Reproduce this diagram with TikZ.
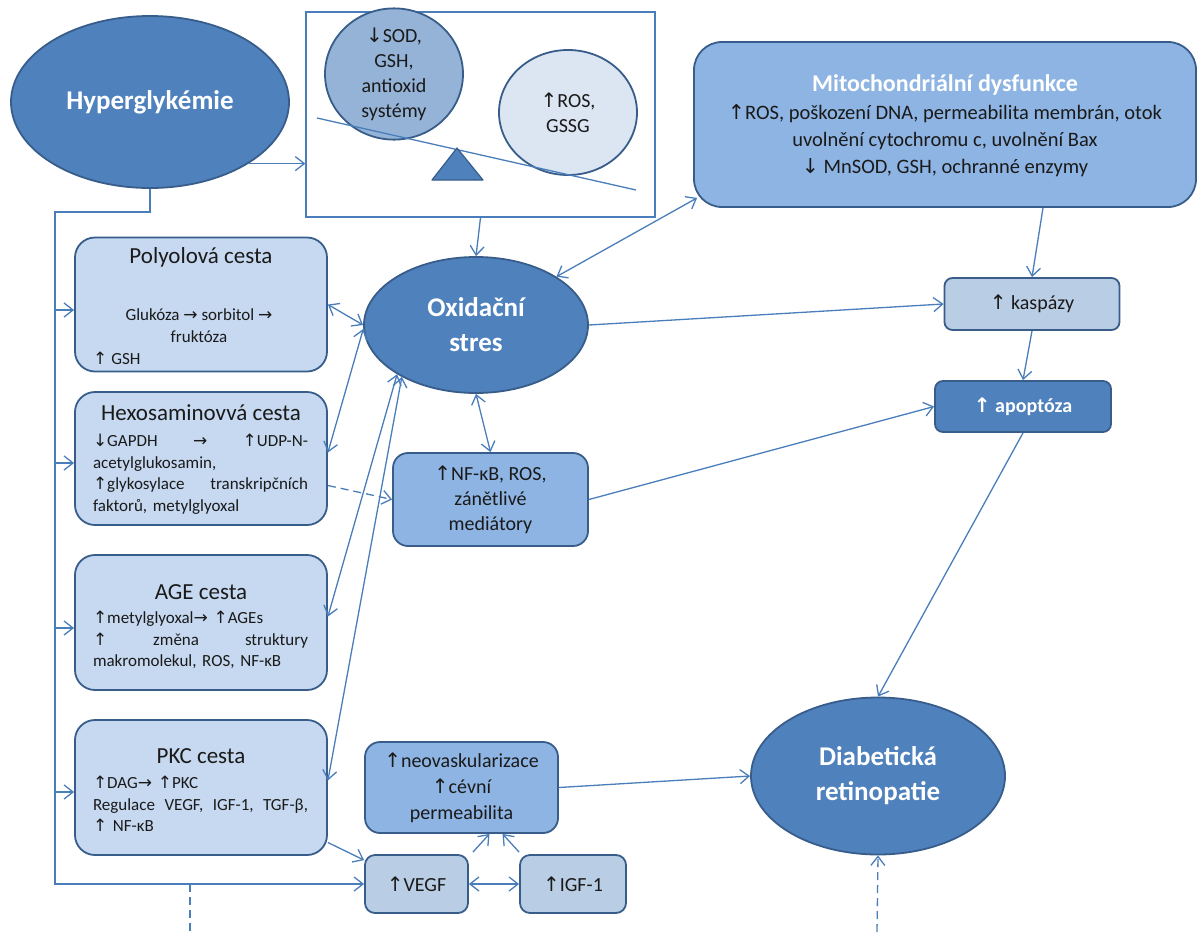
\documentclass[tikz,border=0pt]{standalone}
\usepackage{fontspec}
\setmainfont{Carlito}
\newfontfamily\arr{DejaVu Sans}
\usetikzlibrary{shapes.geometric,arrows.meta}
\newcommand\UA{{\arr ↑}}
\newcommand\DA{{\arr ↓}}
\newcommand\RA{{\arr →}}
\newcommand\jline[1]{\leavevmode\hbox to 215pt{#1}}
\definecolor{dk}{HTML}{4F81BD}
\definecolor{bd}{HTML}{385D8A}
\definecolor{lt}{HTML}{C6D9F1}
\definecolor{md}{HTML}{8EB4E3}
\definecolor{pl}{HTML}{B9CDE5}
\definecolor{cn}{HTML}{4A7EBB}
\definecolor{tx}{HTML}{1A1A1A}
\definecolor{vl}{HTML}{DCE6F2}
\definecolor{cl}{HTML}{95B3D7}
\tikzset{
  ell/.style={ellipse, draw=bd, line width=1.8pt, fill=dk, inner sep=0pt, text=white, align=center},
  rbox/.style={rectangle, draw=bd, line width=1.8pt, inner sep=0pt, align=center, text=tx},
  txt/.style={inner sep=0pt, text=tx},
  big/.style={font=\bfseries\fontsize{27}{35}\selectfont},
  ttl/.style={font=\fontsize{23}{27}\selectfont},
  bod/.style={font=\fontsize{17}{21.5}\selectfont, text width=215pt, align=left},
  med/.style={font=\fontsize{20}{26}\selectfont},
  tip/.tip={Straight Barb[length=9pt,width=14pt]},
  con/.style={draw=cn, line width=1.3pt, -tip},
  bicon/.style={draw=cn, line width=1.3pt, tip-tip},
  plain/.style={draw=cn, line width=1.3pt},
  dsh/.style={dash pattern=on 8pt off 5pt}
}
\begin{document}
\begin{tikzpicture}[x=1pt,y=-1pt]
\fill[white] (0,0) rectangle (1199,932);
\useasboundingbox (0,0) rectangle (1199,932);

% main ellipses
\node[ell, big, minimum width=278pt, minimum height=172pt] (hyper) at (150,102) {Hyperglykémie};
\node[ell, big, minimum width=224pt, minimum height=136pt] (oxid) at (476,325) {Oxidační\\stres};
\node[ell, big, minimum width=254pt, minimum height=157pt] (dr) at (878,776) {Diabetická\\retinopatie};

% balance box
\node[draw=cn, line width=1.3pt, minimum width=349pt, minimum height=205pt, inner sep=0pt] (scalebox) at (480.5,114.5) {};
\node[ellipse, draw=bd, line width=1.8pt, fill=cl, minimum width=138pt, minimum height=124pt, inner sep=0pt, align=center, text=tx, font=\fontsize{20}{25}\selectfont] (antiox) at (394,74) {\DA SOD,\\GSH,\\antioxid\\systémy};
\node[ellipse, draw=bd, line width=1.8pt, fill=vl, minimum width=138pt, minimum height=125pt, inner sep=0pt, align=center, text=tx, font=\fontsize{20}{25}\selectfont] (ros) at (568,112.5) {\UA ROS,\\GSSG};
\coordinate (beamL) at (317,118);
\coordinate (beamR) at (636,190);
\draw[plain] (beamL) -- (beamR);
\coordinate (triA) at (457,148);
\coordinate (triB) at (432,180);
\coordinate (triC) at (483,180);
\filldraw[fill=dk, draw=bd, line width=1.2pt, line join=round] (triA) -- (triB) -- (triC) -- cycle;

% mitochondria
\node[rbox, rounded corners=28pt, fill=md, minimum width=502pt, minimum height=165pt] (mito) at (945,124.5) {};
\node[txt, text=white, font=\bfseries\fontsize{24}{28}\selectfont] (mitot) at (945,85) {Mitochondriální dysfunkce};
\node[txt, align=center, font=\fontsize{20.5}{27}\selectfont] (mitob) at (945,141) {\UA ROS, poškození DNA, permeabilita membrán, otok\\uvolnění cytochromu c, uvolnění Bax\\\DA\ MnSOD, GSH, ochranné enzymy};

% caspases, apoptosis
\node[rbox, rounded corners=8pt, fill=pl, minimum width=175pt, minimum height=52pt, font=\fontsize{20}{24}\selectfont] (kasp) at (1032,304) {\UA\ kaspázy};
\node[rbox, rounded corners=8pt, fill=dk, text=white, minimum width=176pt, minimum height=51pt, font=\bfseries\fontsize{20}{24}\selectfont] (apopt) at (1023,406.5) {\UA\ apoptóza};

% pathway boxes
\node[rbox, rounded corners=20pt, fill=lt, minimum width=252pt, minimum height=134pt] (polyol) at (201,304.5) {};
\node[rbox, rounded corners=20pt, fill=lt, minimum width=252pt, minimum height=133pt] (hexo) at (201,458.5) {};
\node[rbox, rounded corners=20pt, fill=lt, minimum width=252pt, minimum height=135pt] (age) at (201,622.5) {};
\node[rbox, rounded corners=20pt, fill=lt, minimum width=252pt, minimum height=135pt] (pkc) at (201,787.5) {};

\node[txt, ttl] (polyolt) at (201,257) {Polyolová cesta};
\node[txt, align=center, font=\fontsize{17}{22}\selectfont] (polyolb) at (199,326) {Glukóza \RA\ sorbitol \RA\\fruktóza};
\node[txt, anchor=west, font=\fontsize{17}{21}\selectfont] (polyolg) at (93,358) {\UA\ GSH};

\node[txt, ttl] (hexot) at (201,413) {Hexosaminovvá cesta};
\node[txt, bod] (hexob) at (200.5,474) {\jline{\DA GAPDH\hfill\RA\hfill\UA UDP-N-}\\acetylglukosamin,\\\jline{\UA glykosylace\hfill transkripčních}\\faktorů, metylglyoxal};

\node[txt, ttl] (aget) at (201,592) {AGE cesta};
\node[txt, bod] (ageb) at (200.5,640) {\UA metylglyoxal\RA\ \UA AGEs\\\jline{\UA\hfill změna\hfill struktury}\\makromolekul, ROS, NF-κB};

\node[txt, ttl] (pkct) at (201,756) {PKC cesta};
\node[txt, bod] (pkcb) at (200.5,804) {\UA DAG\RA\ \UA PKC\\\jline{Regulace\hfill VEGF,\hfill IGF-1,\hfill TGF-β,}\\\UA\ NF-κB};

% middle boxes
\node[rbox, rounded corners=15pt, fill=md, minimum width=195pt, minimum height=93pt, med, font=\fontsize{20}{25}\selectfont] (nf) at (490.5,499.5) {\UA NF-κB, ROS,\\zánětlivé\\mediátory};
\node[rbox, rounded corners=15pt, fill=md, minimum width=193pt, minimum height=91pt, med] (neo) at (461.5,787.5) {\UA neovaskularizace\\\UA cévní\\permeabilita};
\node[rbox, rounded corners=10pt, fill=pl, minimum width=103pt, minimum height=58pt, med] (vegf) at (416.5,884) {\UA VEGF};
\node[rbox, rounded corners=10pt, fill=pl, minimum width=106pt, minimum height=58pt, med] (igf) at (573,884) {\UA IGF-1};

% hyperglycemia connectors
\draw[con] (hyper.-32) -- (hyper.-32 -| scalebox.west);
\coordinate (trunktop) at (55,212);
\coordinate (trunkbot) at (55,884);
\draw[con] (hyper.south) |- (trunktop) -- (trunkbot) -- (vegf.west);
\coordinate (pa) at ([yshift=-5.5pt]polyol.west);
\coordinate (ha) at ([yshift=-4.5pt]hexo.west);
\coordinate (aa) at ([yshift=-5.5pt]age.west);
\coordinate (ka) at ([yshift=-4.5pt]pkc.west);
\draw[con] (pa -| trunktop) -- (pa);
\draw[con] (ha -| trunktop) -- (ha);
\draw[con] (aa -| trunktop) -- (aa);
\draw[con] (ka -| trunktop) -- (ka);
\coordinate (dl) at (190,932);
\draw[plain, dsh] (dl |- trunkbot) -- (dl);

% oxidative stress connectors
\draw[con] (scalebox.south) -- (oxid.north);
\coordinate (mitoA) at ([shift={(4pt,10pt)}]mito.south west);
\draw[bicon] (oxid.31) -- (mitoA);
\draw[con] (oxid.east) -- (kasp.west);
\coordinate (mk) at ([xshift=98pt]mito.south);
\draw[con] (mk) -- (kasp.north);
\draw[con] (kasp.south) -- (apopt.north);
\draw[con] (nf.east) -- (apopt.west);
\draw[con] (apopt.south) -- (dr.north);
\draw[bicon] (polyol.east) -- (oxid.west);
\draw[bicon] (oxid.182) -- ([yshift=6pt]hexo.east);
\draw[bicon] (oxid.212) -- ([yshift=6pt]age.east);
\draw[bicon] (oxid.215) -- ([yshift=7pt]pkc.east);
\draw[bicon] (oxid.south) -- (nf.north);
\draw[con, dsh] ([yshift=-27pt]hexo.east) -- (nf.west);

% lower connectors
\draw[con] ([yshift=-55pt]pkc.east) -- ([yshift=-6pt]vegf.north west);
\draw[bicon] (vegf.east) -- (igf.west);
\draw[con] ([shift={(4pt,2pt)}]vegf.north east) -- ([xshift=28pt]neo.south);
\draw[con] ([yshift=2pt]igf.north west) -- ([xshift=41pt]neo.south);
\draw[con] (neo.east) -- (dr.west);
\coordinate (drbot) at (877,932);
\draw[con, dsh] (drbot) -- (dr.south);
\end{tikzpicture}
\end{document}
